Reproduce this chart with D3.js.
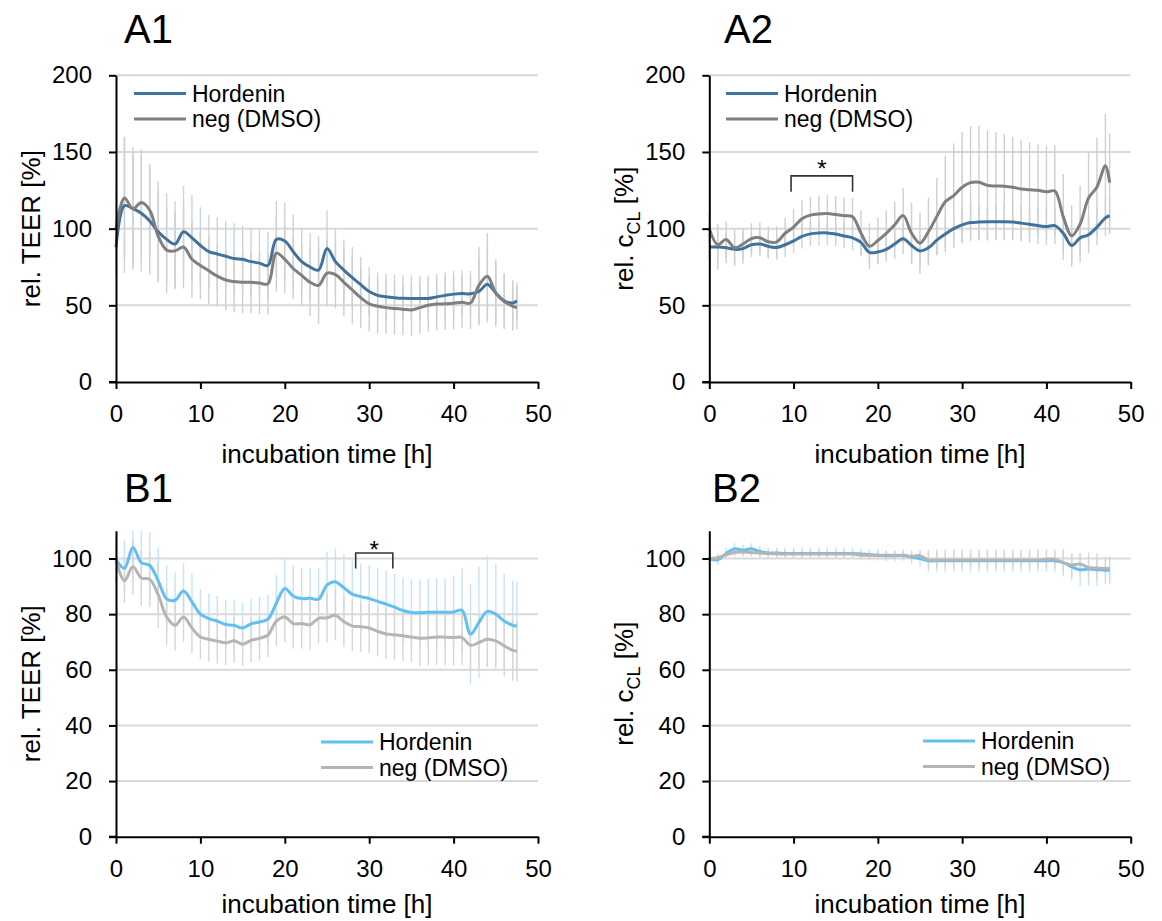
<!DOCTYPE html>
<html><head><meta charset="utf-8">
<script src="https://cdn.jsdelivr.net/npm/d3@7"></script>
<style>html,body{margin:0;padding:0;background:#fff;} svg{display:block;font-family:"Liberation Sans",Arial,sans-serif;}</style>
</head><body><svg id="chart" width="1162" height="921"></svg>
<script>
// ---------- data ----------
const TIME = [0,1,2,3,4,5,6,7,8,9,10,11,12,13,14,15,16,17,18,19,20,21,22,23,24,25,26,27,28,29,30,31,32,33,34,35,36,37,38,39,40,41,42,43,44,45,46,47,47.5];
const SERIES_NAMES = ["Hordenin", "neg (DMSO)"];
const X_TICKS = [0,10,20,30,40,50];
const Y_TICKS_A = [0,50,100,150,200];
const Y_TICKS_B = [0,20,40,60,80,100];

// A1: rel. TEER
const HORD_A1 = [88,115,113,110,105,98,93,90,98,94,89,85,83.5,82,80.5,80,78.5,77.5,76,93,92,85,78.5,75,73,87,78.5,73,68,63.5,59,56.5,55.6,55,54.6,54.5,54.5,54.5,55.5,56.5,57.3,57.7,57.5,59,63.8,58,53,51.5,53];
const NEG_A1 = [100,120,113,117,112,95,86,85.5,88,80,76,72.5,69,66.5,65.5,65,65,64.5,64,84,80,74,69.5,65,63,71,70,65,60,55,51,49.5,48.5,48,47.5,47,48.5,50,50.8,51,51.3,52,51.5,63,69,58,52.5,49.5,48.5];
const HORD_A1_ERR = [20,44,40,38,35,33,30,28,30,28,25,24,24,23,23,22,22,22,22,25,25,24,22,22,22,25,22,20,20,18,16,15,15,15,15,15,15,15,15,15,15,15,15,22,25,20,18,15,12];
const NEG_A1_ERR = [25,40,38,35,30,30,28,25,27,25,22,22,20,20,20,20,20,20,20,25,22,20,20,22,25,22,22,22,22,20,18,18,17,17,17,17,17,17,17,17,17,17,17,25,28,22,18,16,14];

// A2: rel. cCL
const HORD_A2 = [88,88,87.5,86.5,87,89.5,90,88.5,87.7,89.5,92,95,96.6,97.2,97.2,96.5,95.2,94,91,84.5,84.8,86.5,90,93.4,89,85.5,87.5,92.5,96.5,100,102.5,104,104.3,104.5,104.5,104.5,104.3,103.6,102.8,102,101.4,102,97,89,94,96,101,107,108.4];
const NEG_A2 = [100,89.5,93,87.5,90,93.5,94,91.4,91.4,97,101,106.5,108.8,109.6,109.8,109.2,108.5,107.8,97,88.5,92.3,96.9,102.5,108.5,97,90.5,98,108,117.5,121.5,127,130,130.2,128.2,127.8,127.7,127,125.8,125.3,125,124,124.5,107.7,95.3,103,120,127.2,141,130];
const HORD_A2_ERR = [8,15,10,10,10,8,8,8,8,8,8,8,8,8,8,8,8,8,8,8,8,8,10,10,10,10,10,10,12,12,12,12,12,12,12,12,12,12,12,12,12,12,12,12,12,12,12,12,12];
const NEG_A2_ERR = [10,12,12,12,10,10,10,10,10,10,12,12,12,12,12,12,12,12,15,15,15,15,15,18,20,20,22,25,30,34,36,37,37,36,35,34,33,32,31,30,30,30,28,20,25,30,32,34,32];

// B1: rel. TEER
const HORD_B1 = [99.6,96.5,104,98.5,97.5,92,85.5,85,88.3,84.4,80,78.4,77.5,76.3,76,75,76.5,77.2,78.2,84,89.2,86.5,85.6,85.7,85.4,90.4,91.6,89.5,87.2,86.3,85.6,84.6,83.6,82.5,81.3,80.6,80.5,80.7,80.7,80.7,80.8,81.4,72.8,77,81,80,77.5,76,75.7];
const NEG_B1 = [99.4,92,97,93,92.5,87,79,76,79,75,71.8,71,70.3,69.7,70.4,69.2,70.6,71.3,72.5,77.5,79,76.6,76.6,76.2,78.5,78.7,79.6,77.3,75.7,75.5,75,73.8,72.9,72.6,72.2,71.8,71.3,71.5,71.8,71.7,71.6,71.6,68.8,69.8,71,70.4,68.6,67,66.7];
const HORD_B1_ERR = [8,10,12,12,12,12,12,10,10,10,9,9,9,9,9,9,9,9,9,10,11,11,11,11,11,12,12,12,12,12,12,12,12,12,12,12,12,12,12,12,13,15,18,20,20,18,17,16,16];
const NEG_B1_ERR = [8,8,10,10,10,12,10,9,9,9,8,8,8,8,8,8,8,8,8,9,9,9,9,9,9,9,9,9,9,9,9,9,9,9,9,9,10,10,10,10,10,10,10,10,10,10,11,11,11];

// B2: rel. cCL
const HORD_B2 = [100,99.5,101.8,103.5,103,103.5,102.5,102,102,101.8,101.8,101.8,101.8,101.8,101.8,101.8,101.8,101.8,101.6,101.4,101.2,101,101,101.2,100.5,100,99.2,99.2,99.2,99.2,99.2,99.2,99.2,99.2,99.2,99.2,99.2,99.2,99.2,99.2,99.2,99.2,98.5,97,96,96.2,96,95.8,95.8];
const NEG_B2 = [100,100.3,101.3,102.2,102.3,102.2,102,101.8,101.7,101.6,101.6,101.6,101.6,101.6,101.6,101.6,101.6,101.6,101.2,101.2,101.2,101.2,101.2,101,100.8,101,99.5,99.5,99.5,99.5,99.5,99.5,99.5,99.5,99.5,99.5,99.5,99.5,99.5,99.5,99.7,99.7,98.5,97.7,98,96.8,96.6,96.4,96.4];
const HORD_B2_ERR = [1,2,2,2,2,2,2,2,2,2,2,2,2,2,2,2,2,2,2,2,2,2,2,2,2.5,3,4,4,4,4,4,4,4,4,4,4,4,4,4,4,4,4,5,5,6,6,6,5,5];
const NEG_B2_ERR = [1,1.5,1.5,1.5,1.5,1.5,1.5,1.5,1.5,1.5,1.5,1.5,1.5,1.5,1.5,1.5,1.5,1.5,1.5,1.5,1.5,1.5,1.5,1.5,1.5,2,3,3,3,3,3,3,3,3,3,3,3,3,3,3,3,3,4,4,4,4,4,4,4];

// significance brackets [from h, to h, low value, high value, star value]
const SIG_A2 = [9.7, 17, 124, 134.4, 142.5];
const SIG_B1 = [28.4, 32.8, 96.4, 102, 105.2];

// ---------- layout ----------
const THEMES = {
  A: {hord:"#41729c", neg:"#7f7f7f", hordErr:"#c9d4de", negErr:"#cfcfcf"},
  B: {hord:"#62bff1", neg:"#b5b5b5", hordErr:"#c6e4f6", negErr:"#d6d6d6"}
};
const PANELS = [
  {label:"A1", theme:"A", hord:HORD_A1, neg:NEG_A1, hErr:HORD_A1_ERR, nErr:NEG_A1_ERR, yMax:200, yTicks:Y_TICKS_A, yTitle:"TEER",
   left:116, right:538, top:75.3, bottom:382, labelX:124, labelY:43, leg:[134,93.5], sig:null, titleOff:81},
  {label:"A2", theme:"A", hord:HORD_A2, neg:NEG_A2, hErr:HORD_A2_ERR, nErr:NEG_A2_ERR, yMax:200, yTicks:Y_TICKS_A, yTitle:"cCL",
   left:709.3, right:1130.7, top:75.3, bottom:382, labelX:724, labelY:43, leg:[726,93.5], sig:SIG_A2, titleOff:81},
  {label:"B1", theme:"B", hord:HORD_B1, neg:NEG_B1, hErr:HORD_B1_ERR, nErr:NEG_B1_ERR, yMax:110, yTicks:Y_TICKS_B, yTitle:"TEER",
   left:116, right:538, top:530.7, bottom:836.7, labelX:124, labelY:502, leg:[321,742], sig:SIG_B1, titleOff:76.5},
  {label:"B2", theme:"B", hord:HORD_B2, neg:NEG_B2, hErr:HORD_B2_ERR, nErr:NEG_B2_ERR, yMax:110, yTicks:Y_TICKS_B, yTitle:"cCL",
   left:709.3, right:1130.7, top:530.7, bottom:836.7, labelX:712, labelY:502, leg:[923,741], sig:null, titleOff:76.5}
];

const svg = d3.select("#chart");

PANELS.forEach(p => {
  const th = THEMES[p.theme];
  const x = d3.scaleLinear().domain([0, 50]).range([p.left, p.right]);
  const y = d3.scaleLinear().domain([0, p.yMax]).range([p.bottom, p.top]);
  const g = svg.append("g");

  // gridlines
  g.selectAll("line.grid").data(p.yTicks.filter(v => v > 0)).enter().append("line")
    .attr("x1", p.left).attr("x2", p.right)
    .attr("y1", d => y(d)).attr("y2", d => y(d))
    .attr("stroke", "#d9d9d9").attr("stroke-width", 2);

  // error bars
  const drawErr = (vals, errs, color) => {
    g.append("g").selectAll("line").data(TIME.map((t, i) => ({t, v: vals[i], e: errs[i]}))).enter().append("line")
      .attr("x1", d => x(d.t)).attr("x2", d => x(d.t))
      .attr("y1", d => y(d.v - d.e)).attr("y2", d => y(Math.min(d.v + d.e, p.yMax)))
      .attr("stroke", color).attr("stroke-width", 1.4);
  };
  drawErr(p.hord, p.hErr, th.hordErr);
  drawErr(p.neg, p.nErr, th.negErr);

  // lines
  const line = d3.line().x((d, i) => x(TIME[i])).y(d => y(d)).curve(d3.curveCatmullRom.alpha(0.5));
  g.append("path").attr("d", line(p.hord)).attr("fill", "none").attr("stroke", th.hord).attr("stroke-width", 3);
  g.append("path").attr("d", line(p.neg)).attr("fill", "none").attr("stroke", th.neg).attr("stroke-width", 3);

  // axes
  const yAxis = d3.axisLeft(y).tickValues(p.yTicks).tickSize(7).tickSizeOuter(0).tickPadding(17);
  const xAxis = d3.axisBottom(x).tickValues(X_TICKS).tickSize(7).tickSizeOuter(0).tickPadding(16);
  const ya = g.append("g").attr("transform", `translate(${p.left},0)`).call(yAxis);
  const xa = g.append("g").attr("transform", `translate(0,${p.bottom})`).call(xAxis);
  [ya, xa].forEach(a => {
    a.select(".domain").attr("stroke", "#000").attr("stroke-width", 2);
    a.selectAll(".tick line").attr("stroke", "#000").attr("stroke-width", 2);
    a.selectAll(".tick text").attr("fill", "#000").attr("font-size", 24)
      .attr("font-family", '"Liberation Sans", Arial, sans-serif');
  });
  // x-axis extends left over the y-axis 0 tick
  g.append("line").attr("x1", p.left - 7).attr("x2", p.left).attr("y1", p.bottom).attr("y2", p.bottom)
    .attr("stroke", "#000").attr("stroke-width", 2);

  // panel label
  g.append("text").attr("x", p.labelX).attr("y", p.labelY).attr("font-size", 40).attr("fill", "#000").text(p.label);

  // x title
  g.append("text").attr("x", (p.left + p.right) / 2).attr("y", p.bottom + p.titleOff)
    .attr("text-anchor", "middle").attr("font-size", 26).attr("fill", "#000").text("incubation time [h]");

  // y title
  const yt = g.append("text")
    .attr("transform", `translate(${p.left - 76},${(p.top + p.bottom) / 2}) rotate(-90)`)
    .attr("text-anchor", "middle").attr("font-size", 26).attr("fill", "#000");
  if (p.yTitle === "TEER") {
    yt.text("rel. TEER [%]");
  } else {
    yt.append("tspan").text("rel. c");
    yt.append("tspan").attr("font-size", 18).attr("dy", 7).text("CL");
    yt.append("tspan").attr("dy", -7).text(" [%]");
  }

  // legend
  const [lx, ly] = p.leg;
  SERIES_NAMES.forEach((name, i) => {
    const yy = ly + i * 25.5;
    g.append("line").attr("x1", lx).attr("x2", lx + 52).attr("y1", yy).attr("y2", yy)
      .attr("stroke", i === 0 ? th.hord : th.neg).attr("stroke-width", 3);
    g.append("text").attr("x", lx + 58).attr("y", yy + 8).attr("font-size", 23).attr("fill", "#000").text(name);
  });

  // significance bracket
  if (p.sig) {
    const [a, b, lo, hi, st] = p.sig;
    g.append("path")
      .attr("d", `M${x(a)},${y(lo)}V${y(hi)}H${x(b)}V${y(lo)}`)
      .attr("fill", "none").attr("stroke", "#333").attr("stroke-width", 1.6);
    g.append("text").attr("x", (x(a) + x(b)) / 2).attr("y", y(st) + 14)
      .attr("text-anchor", "middle").attr("font-size", 24).attr("fill", "#000").text("*");
  }
});
</script>
</body></html>
